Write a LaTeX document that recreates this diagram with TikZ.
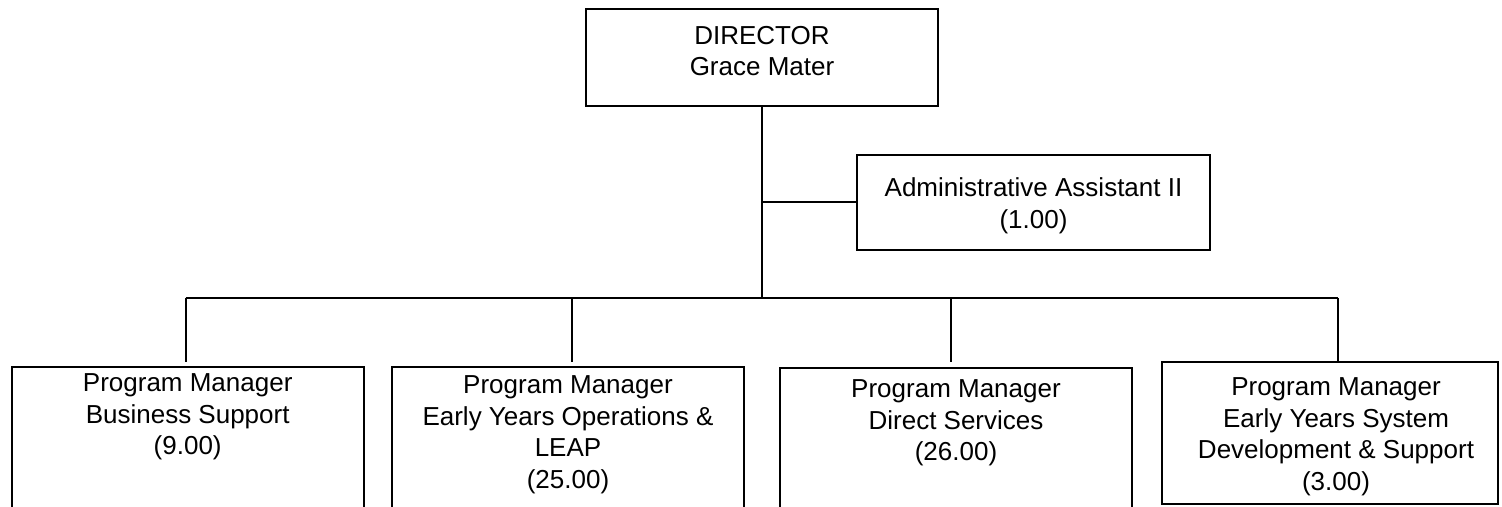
\documentclass[tikz,border=0pt]{standalone}
\usepackage{fontspec}
\setmainfont{Liberation Sans}
\begin{document}
\begin{tikzpicture}[x=0.5pt,y=-0.5pt,
  box/.style={draw=black,line width=1pt,fill=white,inner sep=0pt,outer sep=0pt,
    rectangle,anchor=north west},
  lbl/.style={inner sep=0pt,outer sep=0pt,anchor=north,align=center,
    font=\fontsize{13pt}{15.75pt}\selectfont},
  link/.style={draw=black,line width=1pt}]
\useasboundingbox (0,0) rectangle (1502,507);
\clip (0,0) rectangle (1502,507);

% boxes
\node[box,minimum width=176pt,minimum height=48.5pt] (dir) at (586,9) {};
\node[box,minimum width=176.5pt,minimum height=47.5pt] (adm) at (857,155) {};
\node[box,minimum width=176pt,minimum height=86.5pt] (pm1) at (11.7,366.7) {};
\node[box,minimum width=176pt,minimum height=86.5pt] (pm2) at (392,366.7) {};
\node[box,minimum width=176pt,minimum height=86.5pt] (pm3) at (780,368) {};
\node[box,minimum width=168pt,minimum height=71pt] (pm4) at (1162,362) {};

% labels
\node[lbl] (dirT) at (762,26) {DIRECTOR\\Grace Mater};
\node[lbl] (admT) at (1033.5,178) {Administrative Assistant II\\(1.00)};
\node[lbl] (pm1T) at (187.7,374) {Program Manager\\Business Support\\(9.00)};
\node[lbl] (pm2T) at (568,376) {Program Manager\\Early Years Operations \&\\LEAP\\(25.00)};
\node[lbl] (pm3T) at (956,380) {Program Manager\\Direct Services\\(26.00)};
\node[lbl] (pm4T) at (1336,378) {Program Manager\\Early Years System\\Development \& Support\\(3.00)};

% connector points
\coordinate (hub) at (762,298);
\coordinate (jadm) at (dir.south |- adm.west);
\coordinate (b1) at (185.7,298);
\coordinate (b2) at (572,298);
\coordinate (b3) at (950.7,298);
\coordinate (b4) at (1338,298);
\coordinate (e1) at (185.7,362);
\coordinate (e2) at (572,362);
\coordinate (e3) at (950.7,362);
\coordinate (e4) at (pm4.north -| b4);

% connectors
\draw[link] (dir.south) -- (hub);
\draw[link] (jadm) -- (adm.west);
\draw[link] (b1) -- (b4);
\draw[link] (b1) -- (e1);
\draw[link] (b2) -- (e2);
\draw[link] (b3) -- (e3);
\draw[link] (b4) -- (e4);
\end{tikzpicture}
\end{document}
